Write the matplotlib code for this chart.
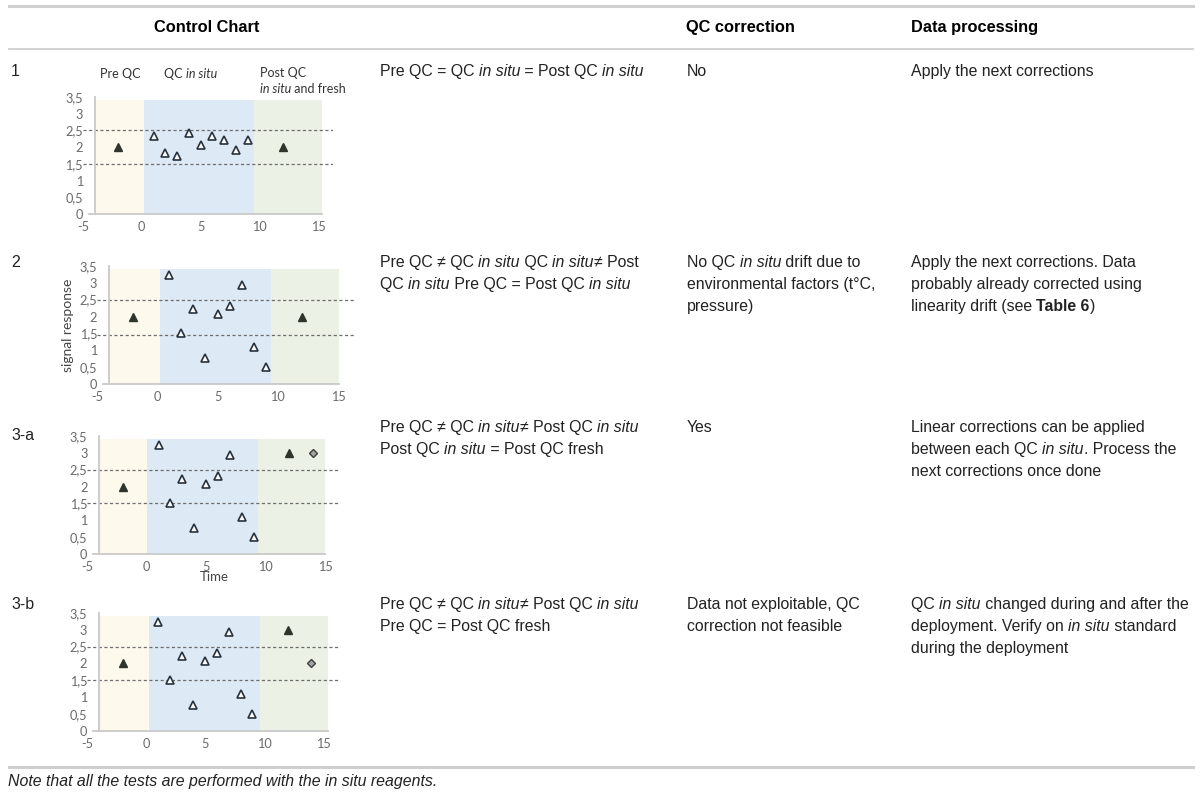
import matplotlib
matplotlib.use("Agg")
import matplotlib.pyplot as plt
from matplotlib.ticker import FuncFormatter

plt.rcParams["axes.unicode_minus"] = False

W, H = 1200, 799

# ---- data ----
situ_x = [1, 2, 3, 4, 5, 6, 7, 8, 9]
situ_case1 = [2.33, 1.81, 1.75, 2.43, 2.06, 2.33, 2.21, 1.91, 2.21]
situ_drift = [3.22, 1.52, 2.22, 0.77, 2.06, 2.32, 2.93, 1.10, 0.51]

pre_x = -2
post_x = 12
fresh_x = 14
pre_y = [2, 2, 2, 2]
post_y = [2, 2, 3, 3]
fresh_y = [None, None, 3, 2]

low_limit = [1.5, 1.45, 1.5, 1.5]
high_limit = [2.5, 2.5, 2.5, 2.5]

# phase edges (end of pre QC, end of QC in situ, end of post QC)
phase_edges = [(0.2, 9.55, 15.3), (0.2, 9.45, 15.1), (0.0, 9.35, 15.0), (0.25, 9.65, 15.4)]

y_ticks = [0, 0.5, 1, 1.5, 2, 2.5, 3, 3.5]
x_ticks = [-5, 0, 5, 10, 15]

TXT = ["Liberation Sans", "DejaVu Sans"]
CHART = ["Lato", "DejaVu Sans"]

fig = plt.figure(figsize=(12, 7.99), dpi=100)
renderer = fig.canvas.get_renderer()


def fx(x):
    return x / W


def fy(y):
    return 1 - y / H


def text_width(s, **kw):
    t = fig.text(0, 0, s + "|", **kw)
    t2 = fig.text(0, 0, "|", **kw)
    w = t.get_window_extent(renderer).width - t2.get_window_extent(renderer).width
    t.remove()
    t2.remove()
    return w


def runs(x, y, parts, size=11.4, color="#222222", family=TXT):
    for s, st in parts:
        kw = dict(fontsize=size, family=family, color=color)
        if st == "i":
            kw["style"] = "italic"
        if st == "b":
            kw["weight"] = "bold"
        fig.text(fx(x), fy(y), s, va="baseline", ha="left", **kw)
        x += text_width(s, **kw)


def cell(x, y, lines):
    for k, ln in enumerate(lines):
        if isinstance(ln, str):
            ln = [(ln, "n")]
        runs(x, y + 22 * k, ln)


def chart(box, k, situ):
    left, top, right, bottom = box
    ax = fig.add_axes([fx(left), fy(bottom), fx(right - left), (bottom - top) / H])
    ax.set_xlim(-5, 16.3)
    ax.set_ylim(0, 3.5)
    e0, e1, e2 = phase_edges[k]
    top_frac = 3.4 / 3.5
    ax.axvspan(-4, e0, 0, top_frac, color="#fdf9ec", lw=0, zorder=0)
    ax.axvspan(e0, e1, 0, top_frac, color="#dde9f5", lw=0, zorder=0)
    ax.axvspan(e1, e2, 0, top_frac, color="#ebf1e4", lw=0, zorder=0)
    for lim in (low_limit[k], high_limit[k]):
        ax.axhline(lim, color="#6e6e6e", lw=0.9, ls=(0, (2.5, 2)), zorder=1)
    ax.plot(situ_x, situ, ls="none", marker="^", ms=5.2, mfc="white",
            mec="#27323d", mew=1.2, zorder=3, clip_on=False)
    ax.plot([pre_x, post_x], [pre_y[k], post_y[k]], ls="none", marker="^", ms=5.3,
            color="#2d352c", zorder=3, clip_on=False)
    if fresh_y[k] is not None:
        ax.plot([fresh_x], [fresh_y[k]], ls="none", marker="D", ms=4.3, mfc="#a3a3a3",
                mec="#3e3e3e", mew=1.0, zorder=3, clip_on=False)
    for s in ("top", "right"):
        ax.spines[s].set_visible(False)
    ax.spines["left"].set_position(("data", -4))
    ax.spines["left"].set_bounds(0, 3.5)
    ax.spines["bottom"].set_bounds(-4.5, e2)
    for s in ("left", "bottom"):
        ax.spines[s].set_color("#c9c9c9")
        ax.spines[s].set_linewidth(1.3)
    ax.set_facecolor("none")
    ax.set_xticks(x_ticks)
    ax.set_yticks(y_ticks)
    ax.yaxis.set_major_formatter(FuncFormatter(lambda v, p: f"{v:g}".replace(".", ",")))
    ax.tick_params(axis="both", length=0, labelsize=9.2, labelcolor="#6a6a6a")
    ax.tick_params(axis="y", pad=8.5)
    ax.tick_params(axis="x", pad=5)
    for lab in ax.get_xticklabels() + ax.get_yticklabels():
        lab.set_family(CHART)
    return ax


boxes = [(83, 97, 333.3, 214), (97, 265.7, 353.7, 384.3),
         (87.3, 435.7, 340.4, 554.3), (87.3, 612.7, 338.6, 731)]
situs = [situ_case1, situ_drift, situ_drift, situ_drift]
axes = [chart(b, k, s) for k, (b, s) in enumerate(zip(boxes, situs))]

axes[1].set_ylabel("signal response", fontsize=10, family=CHART, color="#444444", labelpad=4)
axes[2].set_xlabel("Time", fontsize=9.5, family=CHART, color="#444444", labelpad=-1.5)

# phase labels above chart 1
runs(100, 78, [("Pre QC", "n")], size=9, color="#333333", family=CHART)
runs(164, 78, [("QC ", "n"), ("in situ", "i")], size=9, color="#333333", family=CHART)
runs(260, 77, [("Post QC", "n")], size=9, color="#333333", family=CHART)
runs(260, 93, [("in situ", "i"), (" and fresh", "n")], size=9, color="#333333", family=CHART)

# table rules
for y, lw in ((6, 2.2), (49, 1.3), (767, 2.2)):
    fig.add_artist(plt.Line2D([fx(9), fx(1193)], [fy(y), fy(y)], color="#cfcfcf", lw=lw))

# header
fig.text(fx(207), fy(32), "Control Chart", fontsize=11.8, weight="bold", family=TXT, ha="center", va="baseline")
fig.text(fx(686), fy(32), "QC correction", fontsize=11.8, weight="bold", family=TXT, ha="left", va="baseline")
fig.text(fx(911), fy(32), "Data processing", fontsize=11.8, weight="bold", family=TXT, ha="left", va="baseline")

# row labels
for lab, y in (("1", 76), ("2", 267), ("3-a", 440), ("3-b", 609)):
    runs(11, y, [(lab, "n")])

C1, C2, C3 = 380, 687, 911

# row 1
cell(C1, 76, [[("Pre QC = QC ", "n"), ("in situ", "i"), (" = Post QC ", "n"), ("in situ", "i")]])
cell(C2, 76, ["No"])
cell(C3, 76, ["Apply the next corrections"])

# row 2
cell(C1, 267, [[("Pre QC \u2260 QC ", "n"), ("in situ", "i"), (" QC ", "n"), ("in situ", "i"), ("\u2260 Post", "n")],
               [("QC ", "n"), ("in situ", "i"), (" Pre QC = Post QC ", "n"), ("in situ", "i")]])
cell(C2, 267, [[("No QC ", "n"), ("in situ", "i"), (" drift due to", "n")],
               "environmental factors (t\u00b0C,", "pressure)"])
cell(C3, 267, ["Apply the next corrections. Data", "probably already corrected using",
               [("linearity drift (see ", "n"), ("Table 6", "b"), (")", "n")]])

# row 3-a
cell(C1, 432, [[("Pre QC \u2260 QC ", "n"), ("in situ", "i"), ("\u2260 Post QC ", "n"), ("in situ", "i")],
               [("Post QC ", "n"), ("in situ", "i"), (" = Post QC fresh", "n")]])
cell(C2, 432, ["Yes"])
cell(C3, 432, ["Linear corrections can be applied",
               [("between each QC ", "n"), ("in situ", "i"), (". Process the", "n")],
               "next corrections once done"])

# row 3-b
cell(C1, 609, [[("Pre QC \u2260 QC ", "n"), ("in situ", "i"), ("\u2260 Post QC ", "n"), ("in situ", "i")],
               "Pre QC = Post QC fresh"])
cell(C2, 609, ["Data not exploitable, QC", "correction not feasible"])
cell(C3, 609, [[("QC ", "n"), ("in situ", "i"), (" changed during and after the", "n")],
               [("deployment. Verify on ", "n"), ("in situ", "i"), (" standard", "n")],
               "during the deployment"])

# note
runs(8, 786, [("Note that all the tests are performed with the in situ reagents.", "i")])

fig.savefig("out.png", dpi=100)
